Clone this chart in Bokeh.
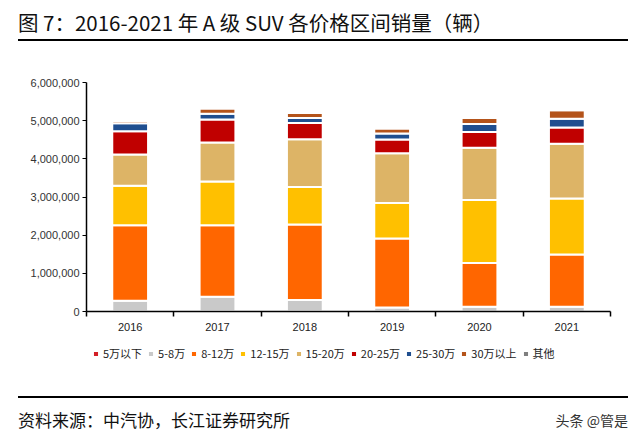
from bokeh.plotting import figure
from bokeh.models import (FixedTicker, NumeralTickFormatter, Legend, LegendItem,
                          Range1d, Div)
from bokeh.layouts import column
from bokeh.embed import file_html
from bokeh.resources import INLINE

years = ["2016", "2017", "2018", "2019", "2020", "2021"]
series_names = ["5万以下", "5-8万", "8-12万", "12-15万", "15-20万", "20-25万", "25-30万", "30万以上", "其他"]
under5 = [8000, 8000, 6000, 4000, 3000, 3000]
p5_8 = [275000, 380000, 295000, 100000, 120000, 120000]
p8_12 = [1980000, 1870000, 1980000, 1810000, 1150000, 1370000]
p12_15 = [1030000, 1150000, 980000, 930000, 1650000, 1470000]
p15_20 = [820000, 1020000, 1250000, 1300000, 1370000, 1430000]
p20_25 = [610000, 600000, 430000, 360000, 410000, 430000]
p25_30 = [210000, 150000, 130000, 160000, 210000, 230000]
p30plus = [60000, 140000, 130000, 130000, 160000, 220000]
other = [5000, 5000, 5000, 5000, 30000, 10000]
y_ticks = [0, 1000000, 2000000, 3000000, 4000000, 5000000, 6000000]

title_text = "图 7：2016-2021 年 A 级 SUV 各价格区间销量（辆）"
source_text = "资料来源：中汽协，长江证券研究所"
mark_text = "头条 @管是"

colors = ["#D31F26", "#C9C9C9", "#FF6600", "#FFC000", "#DDB466",
          "#C00000", "#1F4E8F", "#B4531A", "#7F7F7F"]

xs = [i + 0.5 for i in range(len(years))]
keys = ["under5", "p5_8", "p8_12", "p12_15", "p15_20", "p20_25", "p25_30", "p30plus", "other"]


def make_data():
    d = dict(x=xs)
    for k, arr in zip(keys, [under5, p5_8, p8_12, p12_15, p15_20, p20_25, p25_30, p30plus, other]):
        d[k] = arr
    return d


p = figure(width=640, height=290, output_backend="svg", toolbar_location=None,
           x_range=Range1d(0, len(years)), y_range=Range1d(0, 6000000),
           min_border_left=86, min_border_top=32, min_border_right=30,
           min_border_bottom=29, margin=0, sizing_mode="fixed")
p.outline_line_color = None
p.grid.visible = False
p.background_fill_color = "white"
p.border_fill_color = "white"

rs = p.vbar_stack(keys, x="x", width=0.41, source=make_data(), fill_color=colors,
                  line_color="white", line_width=2)

xa = p.xaxis[0]
xa.ticker = FixedTicker(ticks=xs, minor_ticks=list(range(len(years) + 1)))
xa.major_label_overrides = {x: y for x, y in zip(xs, years)}
xa.major_tick_in = 0
xa.major_tick_out = 0
xa.minor_tick_in = 0
xa.minor_tick_out = 5
xa.minor_tick_line_color = "black"
xa.minor_tick_line_width = 1.5
xa.axis_line_color = "black"
xa.axis_line_width = 1.5
xa.major_label_text_font = "Liberation Sans"
xa.major_label_text_font_size = "11px"
xa.major_label_text_color = "#222222"
xa.major_label_standoff = 6

ya = p.yaxis[0]
ya.ticker = FixedTicker(ticks=y_ticks)
ya.formatter = NumeralTickFormatter(format="0,0")
ya.minor_tick_line_color = None
ya.major_tick_in = 0
ya.major_tick_out = 4
ya.major_tick_line_color = "black"
ya.major_tick_line_width = 1.2
ya.axis_line_color = "black"
ya.axis_line_width = 1.5
ya.major_label_text_font = "Liberation Sans"
ya.major_label_text_font_size = "11px"
ya.major_label_text_color = "#333333"
ya.major_label_standoff = 3

# legend strip: its own small figure holding hidden copies of the stacked bars
lf = figure(width=640, height=55, output_backend="svg", toolbar_location=None,
            x_range=Range1d(0, len(years)), y_range=Range1d(0, 6000000),
            x_axis_location=None, y_axis_location=None,
            min_border=0, margin=0, sizing_mode="fixed")
lf.outline_line_color = None
lf.grid.visible = False
lf.background_fill_color = "white"
lf.border_fill_color = "white"
lrs = lf.vbar_stack(keys, x="x", width=0.41, source=make_data(), fill_color=colors,
                    line_color="white", line_width=1.5)
for r in lrs:
    r.visible = False
legend = Legend(items=[LegendItem(label=n, renderers=[r]) for n, r in zip(series_names, lrs)],
                orientation="horizontal", location=(6, 34),
                glyph_width=7, glyph_height=7, label_standoff=4, spacing=5,
                padding=0, margin=0, label_height=14,
                label_text_font="Noto Sans CJK SC", label_text_font_size="11px",
                label_text_color="#222222", border_line_color=None,
                background_fill_alpha=0, inactive_fill_alpha=0)
lf.add_layout(legend, "center")

title_div = Div(width=640, height=50, margin=0, sizing_mode="fixed", text=(
    "<div style=\"margin-left:18px;width:610px;height:41px;box-sizing:border-box;"
    "padding-top:7px;border-bottom:2px solid #000;font-family:'Noto Sans CJK SC';"
    "font-size:20.5px;line-height:30px;color:#111;white-space:nowrap;\">"
    + title_text + "</div>"))

source_div = Div(width=640, height=53, margin=0, sizing_mode="fixed", text=(
    "<div style=\"margin-left:18px;margin-top:1px;width:610px;height:46px;box-sizing:border-box;"
    "border-top:2px solid #000;display:flex;justify-content:space-between;align-items:center;"
    "font-family:'Noto Sans CJK SC';white-space:nowrap;\">"
    "<span style=\"font-size:17px;color:#111;\">" + source_text + "</span>"
    "<span style=\"font-size:14px;color:#333;\">" + mark_text + "</span></div>"))

layout = column(title_div, p, lf, source_div, spacing=0, margin=0, sizing_mode="fixed")
open("out.html", "w").write(file_html(layout, INLINE))
